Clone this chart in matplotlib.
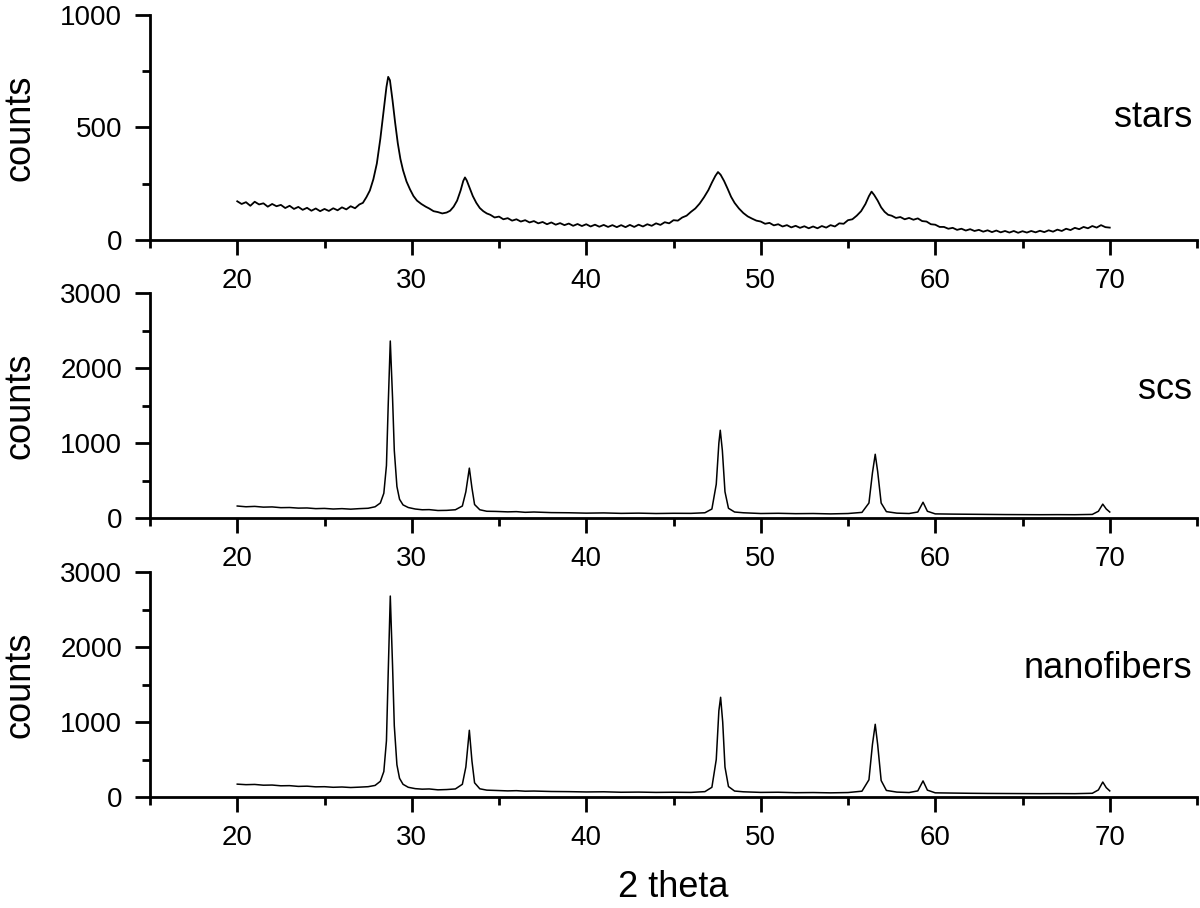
import matplotlib
matplotlib.use("Agg")
import matplotlib.pyplot as plt
from matplotlib.ticker import MultipleLocator

plt.rcParams["font.family"] = ["Liberation Sans", "DejaVu Sans"]

# stars
stars_x = [20.0, 20.25, 20.5, 20.75, 21.0, 21.25, 21.5, 21.75, 22.0, 22.25, 22.5, 22.75,
           23.0, 23.25, 23.5, 23.75, 24.0, 24.25, 24.5, 24.75, 25.0, 25.25, 25.5, 25.75,
           26.0, 26.25, 26.5, 26.75, 27.0,
           27.2, 27.4, 27.6, 27.8, 28.0, 28.2, 28.4, 28.55, 28.65, 28.75, 28.9, 29.05, 29.2,
           29.35, 29.5, 29.7, 29.9, 30.1, 30.3, 30.55, 30.8, 31.0, 31.25, 31.5, 31.75, 32.0,
           32.2, 32.4, 32.6, 32.8, 32.95, 33.05, 33.15, 33.3, 33.5, 33.7, 33.9, 34.1, 34.3,
           34.5, 34.75, 35.0, 35.25, 35.5, 35.75, 36.0, 36.25, 36.5, 36.75, 37.0, 37.25,
           37.5, 37.75, 38.0, 38.25, 38.5, 38.75, 39.0, 39.25, 39.5, 39.75, 40.0, 40.25,
           40.5, 40.75, 41.0, 41.25, 41.5, 41.75, 42.0, 42.25, 42.5, 42.75, 43.0, 43.25,
           43.5, 43.75, 44.0, 44.25, 44.5, 44.75, 45.0, 45.25, 45.5, 45.75, 46.0,
           46.25, 46.5, 46.75, 47.0, 47.2, 47.4, 47.55, 47.7, 47.9, 48.1, 48.3, 48.5, 48.75,
           49.0, 49.25, 49.5, 49.75,
           50.0, 50.25, 50.5, 50.75, 51.0, 51.25, 51.5, 51.75, 52.0, 52.25, 52.5, 52.75,
           53.0, 53.25, 53.5, 53.75, 54.0, 54.25, 54.5, 54.75, 55.0, 55.25,
           55.5, 55.75, 56.0, 56.2, 56.35, 56.5, 56.7, 56.9, 57.1, 57.3, 57.5, 57.75, 58.0,
           58.25, 58.5, 58.75, 59.0, 59.25, 59.5, 59.75, 60.0, 60.25, 60.5, 60.75, 61.0,
           61.25, 61.5, 61.75, 62.0, 62.25, 62.5, 62.75, 63.0, 63.25, 63.5, 63.75, 64.0,
           64.25, 64.5, 64.75, 65.0, 65.25, 65.5, 65.75, 66.0, 66.25, 66.5, 66.75, 67.0,
           67.25, 67.5, 67.75, 68.0, 68.25, 68.5, 68.75, 69.0, 69.25, 69.5, 69.75, 70.0]
stars_y = [172, 160, 168, 152, 170, 158, 163, 148, 160, 150, 156, 142,
           152, 138, 147, 134, 143, 130, 140, 128, 138, 129, 141, 132,
           145, 136, 150, 141, 158,
           165, 190, 220, 270, 340, 450, 580, 680, 725, 710, 620, 520, 430,
           360, 310, 260, 225, 195, 175, 160, 148, 140, 128, 124, 118, 122,
           130, 148, 175, 220, 262, 278, 265, 235, 195, 165, 142, 128, 118,
           112, 100, 104, 92, 97, 86, 92, 82, 88, 78, 84, 74,
           80, 70, 78, 68, 75, 66, 73, 63, 71, 62, 70, 60,
           68, 59, 67, 58, 66, 57, 66, 57, 67, 58, 68, 60,
           70, 63, 74, 67, 79, 74, 88, 86, 100, 108, 125,
           140, 162, 190, 222, 255, 285, 302, 290, 262, 228, 192, 165, 140,
           120, 105, 95, 86,
           82, 72, 76, 65, 70, 60, 66, 56, 63, 54, 61, 52,
           60, 52, 62, 55, 66, 60, 74, 72, 88, 92,
           108, 128, 160, 195, 215, 200, 175, 145, 125, 112, 108, 98, 102,
           92, 98, 90, 96, 84, 82, 70, 68, 58, 58, 50, 54,
           45, 50, 42, 48, 40, 45, 37, 43, 35, 42, 34, 40,
           33, 40, 32, 39, 33, 40, 34, 41, 35, 43, 37, 46,
           40, 50, 44, 54, 48, 58, 52, 62, 55, 66, 57, 55]

# scs
scs_x = [20.0, 20.5, 21.0, 21.5, 22.0, 22.5, 23.0, 23.5, 24.0, 24.5, 25.0, 25.5, 26.0,
         26.5, 27.0, 27.5, 27.9, 28.2, 28.4, 28.55, 28.65, 28.77, 28.9, 29.0, 29.15, 29.3,
         29.5, 29.8, 30.2, 30.6, 31.0, 31.5, 32.0, 32.5, 32.9, 33.1, 33.3, 33.45, 33.6,
         33.9, 34.3, 34.8, 35.5, 36.0, 36.5, 37.0, 38.0, 39.0, 40.0, 41.0, 42.0, 43.0,
         44.0, 45.0, 46.0, 46.8, 47.2, 47.45, 47.6, 47.68, 47.8, 47.95, 48.15, 48.5, 49.0,
         50.0, 51.0, 52.0, 53.0, 54.0, 55.0, 55.8, 56.2, 56.4, 56.56, 56.7, 56.9, 57.2,
         57.8, 58.5, 59.0, 59.3, 59.55, 60.0, 61.0, 62.0, 63.0, 64.0, 65.0, 66.0, 67.0,
         68.0, 69.0, 69.35, 69.6, 69.8, 70.0]
scs_y = [160, 150, 155, 145, 148, 138, 140, 132, 134, 125, 128, 120, 125,
         118, 125, 130, 150, 200, 330, 700, 1500, 2360, 1600, 900, 420, 250,
         175, 140, 120, 110, 112, 100, 102, 110, 160, 350, 665, 400, 180,
         110, 90, 88, 82, 85, 76, 80, 72, 70, 65, 68, 62, 65,
         60, 63, 62, 70, 120, 450, 1000, 1170, 900, 350, 130, 80, 70,
         60, 63, 58, 60, 55, 60, 75, 200, 600, 850, 620, 200, 85,
         65, 60, 80, 210, 90, 55, 52, 50, 48, 46, 45, 44, 45,
         44, 48, 90, 185, 120, 80]

# nanofibers
nano_x = [20.0, 20.5, 21.0, 21.5, 22.0, 22.5, 23.0, 23.5, 24.0, 24.5, 25.0, 25.5, 26.0,
          26.5, 27.0, 27.5, 27.9, 28.2, 28.4, 28.55, 28.65, 28.77, 28.9, 29.0, 29.15, 29.3,
          29.5, 29.8, 30.2, 30.6, 31.0, 31.5, 32.0, 32.5, 32.9, 33.1, 33.3, 33.45, 33.6,
          33.9, 34.3, 34.8, 35.5, 36.0, 36.5, 37.0, 38.0, 39.0, 40.0, 41.0, 42.0, 43.0,
          44.0, 45.0, 46.0, 46.8, 47.2, 47.45, 47.6, 47.7, 47.82, 47.95, 48.15, 48.5, 49.0,
          50.0, 51.0, 52.0, 53.0, 54.0, 55.0, 55.8, 56.2, 56.4, 56.56, 56.7, 56.9, 57.2,
          57.8, 58.5, 59.0, 59.3, 59.55, 60.0, 61.0, 62.0, 63.0, 64.0, 65.0, 66.0, 67.0,
          68.0, 69.0, 69.35, 69.6, 69.8, 70.0]
nano_y = [172, 165, 168, 158, 160, 150, 152, 142, 145, 136, 138, 130, 134,
          127, 132, 138, 155, 210, 340, 750, 1650, 2680, 1750, 950, 430, 250,
          170, 130, 112, 105, 108, 96, 100, 108, 170, 400, 890, 480, 190,
          110, 92, 88, 82, 85, 78, 80, 74, 72, 68, 70, 64, 66,
          62, 64, 62, 72, 130, 500, 1150, 1330, 1000, 400, 140, 80, 70,
          62, 64, 58, 60, 56, 60, 78, 230, 700, 970, 700, 220, 88,
          66, 60, 82, 215, 92, 56, 53, 50, 48, 47, 46, 45, 46,
          45, 50, 95, 200, 125, 82]

names = ["stars", "scs", "nanofibers"]
xs = [stars_x, scs_x, nano_x]
ys = [stars_y, scs_y, nano_y]
ymax = [1000, 3000, 3000]
ymajor = [500, 1000, 1000]
yminor = [250, 500, 500]
label_y = [545, 1710, 1710]
line_w = [1.3, 1.1, 1.1]

fig = plt.figure(figsize=(12, 9.08), dpi=100)
bottoms = [0.7357, 0.4295, 0.1222]

for i in range(3):
    ax = fig.add_axes([0.125, bottoms[i], 0.8725, 0.2478])
    ax.plot(xs[i], ys[i], color="black", lw=line_w[i])
    ax.set_xlim(15, 75)
    ax.set_ylim(0, ymax[i])
    ax.xaxis.set_major_locator(MultipleLocator(10))
    ax.xaxis.set_minor_locator(MultipleLocator(5))
    ax.yaxis.set_major_locator(MultipleLocator(ymajor[i]))
    ax.yaxis.set_minor_locator(MultipleLocator(yminor[i]))
    ax.spines["top"].set_visible(False)
    ax.spines["right"].set_visible(False)
    ax.spines["left"].set_linewidth(2.0)
    ax.spines["bottom"].set_linewidth(2.0)
    ax.tick_params(which="major", length=11, width=2.0, labelsize=20, pad=9)
    ax.tick_params(which="minor", length=6, width=2.0)
    ax.set_xticks([20, 30, 40, 50, 60, 70])
    ax.set_ylabel("counts", fontsize=26)
    ax.yaxis.set_label_coords(-0.107, 0.5)
    ax.text(74.7, label_y[i], names[i], fontsize=26, ha="right", va="center")
    if i == 2:
        ax.set_xlabel("2 theta", fontsize=26)
        ax.xaxis.set_label_coords(0.5, -0.325)

fig.savefig("out.png", dpi=100)
